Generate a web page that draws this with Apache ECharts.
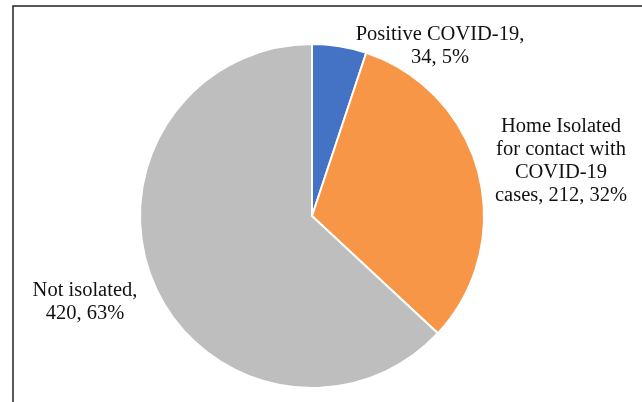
<!DOCTYPE html>
<html>
<head>
    <meta charset="utf-8">
    <title>ECharts</title>
    <script src="https://cdn.jsdelivr.net/npm/echarts@6.0.0/dist/echarts.min.js"></script>
    <style>
        html, body { margin: 0; padding: 0; background: #fff; }
    </style>
</head>
<body>
<div id="main" style="width: 642px;height:402px;"></div>
<script type="text/javascript">
    // data
    var categories = ['Positive COVID-19', 'Home Isolated\nfor contact with\nCOVID-19\ncases', 'Not isolated'];
    var values = [34, 212, 420];
    var colors = ['#4472C4', '#F79646', '#BEBEBE'];

    // where each label block is centred
    var labelSpots = [[440, 46], [561, 161], [85, 302]];

    var total = values.reduce(function (a, b) { return a + b; }, 0);
    var pieData = categories.map(function (name, i) {
        return { name: name, value: values[i], itemStyle: { color: colors[i] } };
    });

    var myChart = echarts.init(document.getElementById('main'));
    var option = {
        backgroundColor: '#fff',
        animation: false,
        graphic: [{
            type: 'rect',
            shape: { x: 13, y: 6, width: 700, height: 500 },
            style: { fill: 'none', stroke: '#222', lineWidth: 1.5 },
            z: 10
        }],
        series: [{
            type: 'pie',
            center: [312, 216],
            radius: [0, 172],
            startAngle: 90,
            clockwise: true,
            itemStyle: { borderColor: '#fff', borderWidth: 2 },
            label: {
                show: true,
                position: 'outside',
                fontFamily: 'Liberation Serif',
                fontSize: 20.5,
                lineHeight: 23,
                color: '#111',
                align: 'center',
                width: 260,
                overflow: 'none',
                formatter: function (p) {
                    var pct = Math.round(p.value / total * 100);
                    var sep = p.dataIndex === 1 ? ', ' : ',\n';
                    return p.name + sep + p.value + ', ' + pct + '%';
                }
            },
            labelLine: { show: false },
            labelLayout: function (params) {
                var s = labelSpots[params.dataIndex];
                return { x: s[0], y: s[1], align: 'center', verticalAlign: 'middle', hideOverlap: false };
            },
            emphasis: { disabled: true },
            data: pieData
        }]
    };
    myChart.setOption(option);
</script>
</body>
</html>
